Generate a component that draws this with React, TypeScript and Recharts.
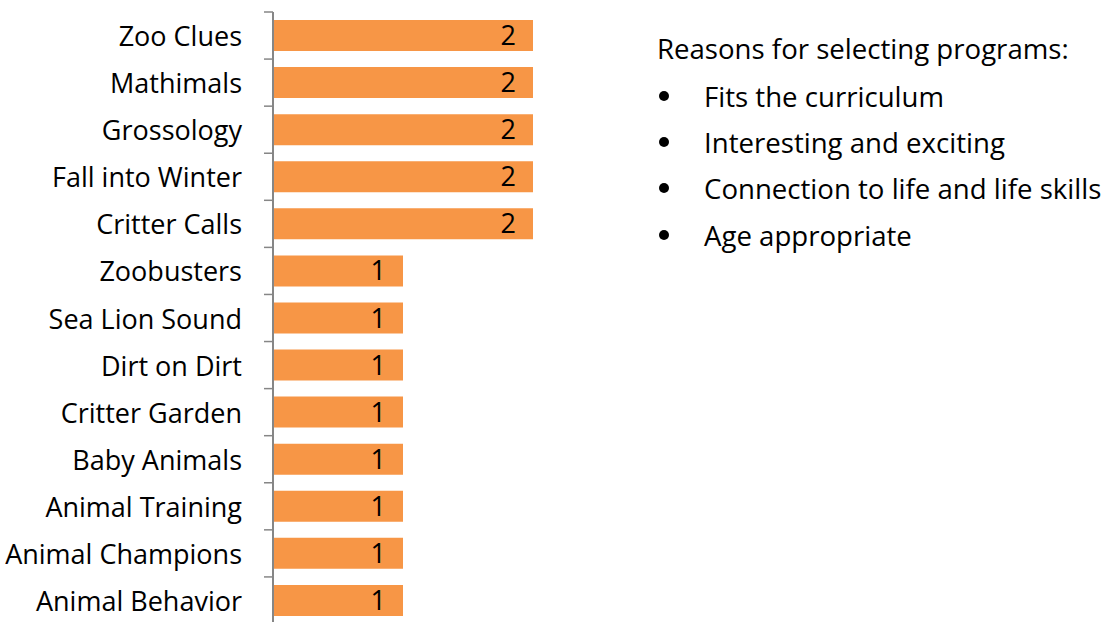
import React from "react";
import { BarChart, Bar, XAxis, YAxis, LabelList } from "recharts";

const programs = [
  "Zoo Clues",
  "Mathimals",
  "Grossology",
  "Fall into Winter",
  "Critter Calls",
  "Zoobusters",
  "Sea Lion Sound",
  "Dirt on Dirt",
  "Critter Garden",
  "Baby Animals",
  "Animal Training",
  "Animal Champions",
  "Animal Behavior",
];
const counts = [2, 2, 2, 2, 2, 1, 1, 1, 1, 1, 1, 1, 1];
const reasonsTitle = "Reasons for selecting programs:";
const reasons = [
  "Fits the curriculum",
  "Interesting and exciting",
  "Connection to life and life skills",
  "Age appropriate",
];

const data = programs.map((name, i) => ({ name, value: counts[i] }));

const FONT = "'Open Sans', sans-serif";
const FS = 27;
const FS_RIGHT = 27.6;
const CHART_W = 560;
const CHART_H = 630;
const M_TOP = 12;
const M_BOTTOM = 6;
const BAND = (CHART_H - M_TOP - M_BOTTOM) / programs.length;

const CatTick = (props: any) => {
  const { x, y, payload } = props;
  return (
    <g>
      <line
        x1={x}
        x2={x + 9}
        y1={y - BAND / 2}
        y2={y - BAND / 2}
        stroke="#868686"
        strokeWidth={1.5}
      />
      <text
        x={x - 22}
        y={y}
        textAnchor="end"
        dominantBaseline="central"
        fontFamily={FONT}
        fontSize={FS}
        fill="#000"
      >
        {payload.value}
      </text>
    </g>
  );
};

export default function App() {
  return (
    <div
      style={{
        position: "absolute",
        left: 0,
        top: 0,
        width: 1111,
        height: 622,
        overflow: "hidden",
        background: "#fff",
      }}
    >
      <BarChart
        width={CHART_W}
        height={CHART_H}
        data={data}
        layout="vertical"
        margin={{ top: M_TOP, right: 27, bottom: M_BOTTOM, left: 0 }}
      >
        <XAxis type="number" domain={[0, 2]} hide />
        <YAxis
          type="category"
          dataKey="name"
          width={273}
          tickLine={false}
          tickSize={9}
          tickMargin={0}
          axisLine={{ stroke: "#868686", strokeWidth: 2 }}
          tick={<CatTick />}
          interval={0}
        />
        <Bar dataKey="value" fill="#F79646" barSize={31} isAnimationActive={false}>
          <LabelList
            dataKey="value"
            position="insideRight"
            offset={17}
            fill="#000"
            fontFamily={FONT}
            fontSize={FS}
          />
        </Bar>
      </BarChart>
      <div
        style={{
          position: "absolute",
          left: 657,
          top: 30,
          fontFamily: FONT,
          fontSize: FS_RIGHT,
          lineHeight: "36px",
          color: "#000",
          whiteSpace: "nowrap",
        }}
      >
        {reasonsTitle}
      </div>
      {reasons.map((r, i) => (
        <div
          key={r}
          style={{
            position: "absolute",
            left: 0,
            top: 96 + i * 46.2 - 18,
            height: 36,
            width: 1111,
            fontFamily: FONT,
            fontSize: FS_RIGHT,
            lineHeight: "36px",
            color: "#000",
            whiteSpace: "nowrap",
          }}
        >
          <div
            style={{
              position: "absolute",
              left: 659,
              top: 13,
              width: 10,
              height: 10,
              borderRadius: 5,
              background: "#000",
            }}
          />
          <div style={{ position: "absolute", left: 704, top: 0 }}>{r}</div>
        </div>
      ))}
    </div>
  );
}
